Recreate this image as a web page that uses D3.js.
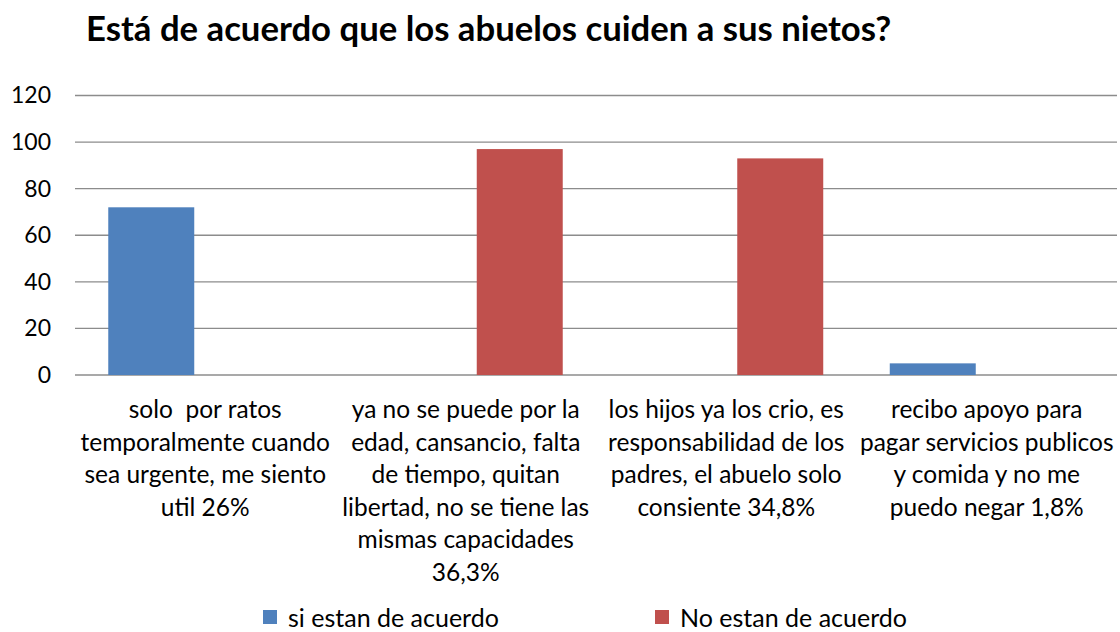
<!DOCTYPE html>
<meta charset="utf-8">
<head>
    <title>Abuelos</title>
</head>
<style>
    body { margin: 0; background: #fff; }
    text { font-family: Lato, "Open Sans", sans-serif; fill: #000; white-space: pre; }
</style>
<div id="graph_div"></div>
<script src="https://d3js.org/d3.v7.min.js"></script>
<script>
    // data
    var categories = [
        ["solo  por ratos", "temporalmente cuando", "sea urgente, me siento", "util 26%"],
        ["ya no se puede por la", "edad, cansancio, falta", "de tiempo, quitan", "libertad, no se tiene las", "mismas capacidades", "36,3%"],
        ["los hijos ya los crio, es", "responsabilidad de los", "padres, el abuelo solo", "consiente 34,8%"],
        ["recibo apoyo para", "pagar servicios publicos", "y comida y no me", "puedo negar 1,8%"]
    ];
    var seriesNames = ["si estan de acuerdo", "No estan de acuerdo"];
    var siValues = [72, 0, 0, 5];
    var noValues = [0, 97, 93, 0];
    var yTicks = [0, 20, 40, 60, 80, 100, 120];
    var colors = ["#4F81BD", "#C0504D"];

    var W = 1120, H = 632;
    var margin = {top: 95.5, right: 3, bottom: 257, left: 75};

    var svg = d3.select("#graph_div")
      .append("svg")
        .attr("width", W)
        .attr("height", H);

    svg.append("text")
        .attr("x", 86)
        .attr("y", 41)
        .style("font-size", "34.7px")
        .style("font-weight", "bold")
        .text("Está de acuerdo que los abuelos cuiden a sus nietos?");

    var x0 = d3.scaleBand()
      .domain(d3.range(categories.length))
      .range([margin.left, W - margin.right])
      .padding(0);

    var x1 = d3.scaleBand()
      .domain([0, 1])
      .range([0, x0.bandwidth()])
      .paddingInner(0.2037)
      .paddingOuter(0.308);

    var y = d3.scaleLinear()
      .domain([0, 120])
      .range([H - margin.bottom, margin.top]);

    // grid lines
    svg.append("g")
      .selectAll("line")
      .data(yTicks)
      .enter().append("line")
        .attr("x1", margin.left)
        .attr("x2", W - margin.right)
        .attr("y1", function(d) { return y(d); })
        .attr("y2", function(d) { return y(d); })
        .attr("stroke", "#8c8c8c")
        .attr("stroke-width", 1.3);

    var yAxis = svg.append("g")
      .attr("transform", "translate(" + (margin.left - 24) + ",0)")
      .call(d3.axisLeft(y).tickValues(yTicks).tickSize(0).tickPadding(0));
    yAxis.select(".domain").remove();
    yAxis.selectAll("text")
      .style("font-size", "23px")
      .style("font-family", "Lato, 'Open Sans', sans-serif")
      .attr("fill", "#000");

    var table = categories.map(function(c, i) {
        return [siValues[i], noValues[i]];
    });

    var groups = svg.append("g")
      .selectAll("g")
      .data(table)
      .enter().append("g")
        .attr("transform", function(d, i) { return "translate(" + x0(i) + ",0)"; });

    groups.selectAll("rect")
      .data(function(d) { return d.map(function(v, s) { return {v: v, s: s}; }); })
      .enter().append("rect")
        .filter(function(d) { return d.v > 0; })
        .attr("x", function(d) { return x1(d.s); })
        .attr("y", function(d) { return y(d.v); })
        .attr("width", x1.bandwidth())
        .attr("height", function(d) { return y(0) - y(d.v); })
        .attr("fill", function(d) { return colors[d.s]; });

    // category labels
    var labels = svg.append("g")
      .selectAll("text")
      .data(categories)
      .enter().append("text")
        .attr("text-anchor", "middle")
        .style("font-size", "24.5px")
        .attr("x", function(d, i) { return x0(i) + x0.bandwidth() / 2; })
        .attr("y", 418);
    labels.selectAll("tspan")
      .data(function(d) { return d; })
      .enter().append("tspan")
        .attr("x", function() { return d3.select(this.parentNode).attr("x"); })
        .attr("dy", function(d, i) { return i === 0 ? 0 : 32.5; })
        .text(function(d) { return d; });

    // legend
    var legendX = [263, 655];
    var legend = svg.append("g")
      .selectAll("g")
      .data(seriesNames)
      .enter().append("g")
        .attr("transform", function(d, i) { return "translate(" + legendX[i] + ",610)"; });
    legend.append("rect")
        .attr("width", 14)
        .attr("height", 14)
        .attr("fill", function(d, i) { return colors[i]; });
    legend.append("text")
        .attr("x", 25)
        .attr("y", 17)
        .style("font-size", "25px")
        .text(function(d) { return d; });
</script>
